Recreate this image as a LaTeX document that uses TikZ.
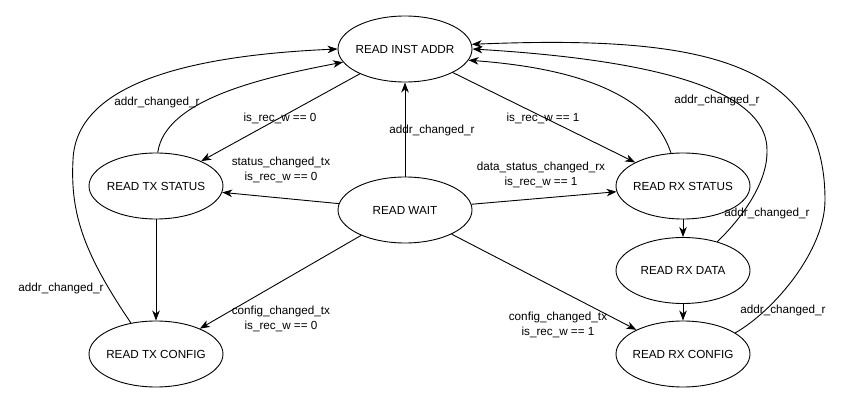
\documentclass[tikz,border=0pt]{standalone}
\usepackage{fontspec}
\setmainfont{Liberation Sans}
\usetikzlibrary{shapes.geometric,arrows.meta}
\newcommand\ctxt[1]{\makebox[0pt]{#1}}
\begin{document}
\begin{tikzpicture}[x=1pt,y=-1pt,
 state/.style={draw,ellipse,line width=0.9pt,minimum width=134pt,minimum height=66pt,inner sep=0pt,font=\fontsize{11.7}{14}\selectfont},
 lbl/.style={inner sep=0pt,align=center,font=\fontsize{11.7}{14.5}\selectfont},
 conn/.style={line width=0.9pt,-{Stealth[length=10pt,width=7.5pt,inset=3pt]}}]
\useasboundingbox[fill=white] (0,0) rectangle (849,403);
% states
\node[state] (inst) at (405,49) {\ctxt{READ INST ADDR}};
\node[state] (txs) at (156,186) {\ctxt{READ TX STATUS}};
\node[state] (wait) at (405,210) {\ctxt{READ WAIT}};
\node[state] (rxs) at (683,186) {\ctxt{READ RX STATUS}};
\node[state] (rxd) at (683,270.5) {\ctxt{READ RX DATA}};
\node[state] (rxc) at (683,354) {\ctxt{READ RX CONFIG}};
\node[state] (txc) at (156,354) {\ctxt{READ TX CONFIG}};
% straight connectors
\draw[conn] (inst) -- (txs);
\draw[conn] (wait) -- (inst);
\draw[conn] (wait) -- (txs);
\draw[conn] (inst) -- (rxs);
\draw[conn] (wait) -- (rxs);
\draw[conn] (txs) -- (txc);
\draw[conn] (wait) -- (txc);
\draw[conn] (wait) -- (rxc);
\draw[conn] (rxs) -- (rxd);
\draw[conn] (rxd) -- (rxc);
% curved connectors
\draw[conn] (txs.87) .. controls (165,100) and (260,78) .. (inst.192);
\draw[conn] (txc.129) .. controls (85,255) and (70,215) .. (73,160)
  .. controls (76,80) and (200,55) .. (inst.180);
\draw[conn] (rxs.110) .. controls (655,105) and (600,70) .. (inst.-10);
\draw[conn] (rxd.40) .. controls (745,215) and (768,180) .. (767,150)
  .. controls (767,100) and (690,62) .. (inst.0);
\draw[conn] (rxc.22) .. controls (775,310) and (825,250) .. (825,200)
  .. controls (825,60) and (700,35) .. (inst.4);
% labels
\node[lbl] (l1) at (280,118) {is\_rec\_w == 0};
\node[lbl] (l2) at (432,130) {addr\_changed\_r};
\node[lbl] (l3) at (281,170) {status\_changed\_tx\\is\_rec\_w == 0};
\node[lbl] (l4) at (543,118) {is\_rec\_w == 1};
\node[lbl] (l5) at (541,175) {data\_status\_changed\_rx\\is\_rec\_w == 1};
\node[lbl] (l6) at (281,319) {config\_changed\_tx\\is\_rec\_w == 0};
\node[lbl] (l7) at (558,325) {config\_changed\_tx\\is\_rec\_w == 1};
\node[lbl] (l8) at (157,102) {addr\_changed\_r};
\node[lbl] (l9) at (61,288) {addr\_changed\_r};
\node[lbl] (l10) at (717,100) {addr\_changed\_r};
\node[lbl] (l11) at (767,213) {addr\_changed\_r};
\node[lbl] (l12) at (783,310) {addr\_changed\_r};
\end{tikzpicture}
\end{document}
